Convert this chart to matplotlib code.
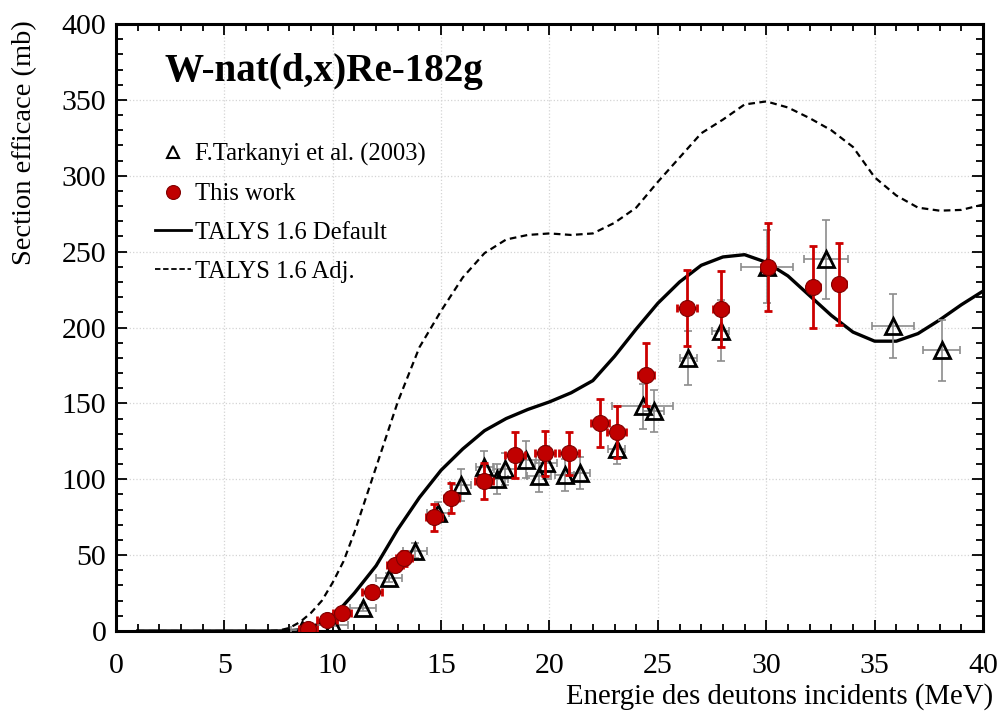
import matplotlib
matplotlib.use("Agg")
import matplotlib.pyplot as plt
from matplotlib.lines import Line2D
from matplotlib.ticker import MultipleLocator

plt.rcParams['font.family'] = ['Liberation Serif', 'DejaVu Serif']

# TALYS curves
talys_x = [1, 2, 3, 4, 5, 6, 7, 7.5, 8, 8.5, 9, 9.5, 10, 10.5, 11, 12, 13, 14, 15, 16, 17, 18, 19, 20,
           21, 22, 23, 24, 25, 26, 27, 28, 29, 30, 31, 32, 33, 34, 35, 36, 37, 38, 39, 40]
talys_default = [0, 0, 0, 0, 0, 0, 0, 0, 0.2, 0.8, 2.5, 5.5, 11, 17, 25, 43, 67, 88, 106, 120, 132, 140, 146, 151,
                 157, 165, 181, 199, 216, 230, 241, 246.5, 248, 243, 234, 221, 208, 197, 191, 191, 196, 205, 215, 224]
talys_adj = [0, 0, 0, 0, 0, 0, 0, 0.3, 2, 6, 12, 20, 32, 46, 65, 108, 151, 187, 211, 233, 249, 258, 261, 262,
             261, 262, 269, 279, 296, 312, 328, 337, 347, 349, 345, 338, 330, 319, 299, 287, 279, 277, 277.5, 281]

# F.Tarkanyi et al. (2003)
tark_x = [8.58, 10.0, 11.4, 12.6, 13.8, 14.86, 15.9, 17.0, 17.6, 17.95, 18.9, 19.5, 19.85, 20.7, 21.4,
          23.1, 24.3, 24.8, 26.4, 27.9, 30.05, 32.75, 35.85, 38.1]
tark_y = [0.7, 4, 15, 35, 53, 78, 96, 108, 100, 107, 113, 102, 111, 103, 104,
          120, 148, 145, 180, 198, 240, 245, 201, 185]
tark_yerr = [0.5, 1, 2, 3, 5, 7, 10.5, 10.5, 10, 10.5, 12, 10.5, 11, 10.5, 10.5,
             10, 15, 14, 18, 20, 24, 26, 21, 20]
tark_xerr = [0.5, 0.7, 0.6, 0.6, 0.55, 0.5, 0.5, 0.4, 0.5, 0.5, 0.5, 0.55, 0.5, 0.45, 0.45,
             0.4, 1.4, 0.5, 0.4, 0.4, 1.2, 1.0, 0.95, 0.85]

# This work
work_x = [8.86, 9.73, 10.43, 11.8, 12.87, 13.29, 14.67, 15.46, 16.98, 18.41, 19.79, 20.9, 22.33, 23.1,
          24.45, 26.34, 27.9, 30.08, 32.16, 33.36]
work_y = [1.3, 7.2, 11.9, 25.7, 43.5, 48, 75, 87.6, 98.8, 116, 117, 117, 137, 131,
          169, 213, 212, 240, 227, 228.7]
work_yerr = [0.5, 1, 1.5, 2.5, 4, 5, 9, 10, 12, 15, 15, 14, 16, 17, 21, 25, 25, 29, 27, 27]
work_xerr = [0.4, 0.45, 0.4, 0.45, 0.35, 0.35, 0.35, 0.35, 0.4, 0.45, 0.45, 0.45, 0.4, 0.45,
             0.35, 0.45, 0.35, 0.3, 0.3, 0.3]

fig = plt.figure(figsize=(9.99, 7.13), dpi=100)
ax = fig.add_axes([0.1161, 0.115, 0.8679, 0.8513])

ax.plot(talys_x, talys_default, color='black', lw=2.4, zorder=3)
ax.plot(talys_x, talys_adj, color='black', lw=1.6, ls=(0, (3, 2)), zorder=3)

ax.errorbar(tark_x, tark_y, yerr=tark_yerr, xerr=tark_xerr, fmt='none', ecolor='#8c8c8c',
            elinewidth=1.2, capsize=3, capthick=1.2, zorder=4)
ax.plot(tark_x, tark_y, ls='none', marker='^', ms=12, mfc='none', mec='black', mew=2, zorder=5)

ax.errorbar(work_x, work_y, yerr=work_yerr, xerr=work_xerr, fmt='none', ecolor='#cc0000',
            elinewidth=2, capsize=3, capthick=2, zorder=6)
ax.plot(work_x, work_y, ls='none', marker='o', ms=11.5, mfc='#c00000', mec='#800000', mew=0.8, zorder=7)

ax.set_xlim(0, 40)
ax.set_ylim(0, 400)
ax.xaxis.set_major_locator(MultipleLocator(5))
ax.xaxis.set_minor_locator(MultipleLocator(1))
ax.yaxis.set_major_locator(MultipleLocator(50))
ax.yaxis.set_minor_locator(MultipleLocator(10))
ax.tick_params(which='both', direction='in', top=True, right=True, width=1.3, labelsize=21.5)
ax.tick_params(which='major', length=8)
ax.tick_params(which='minor', length=5)
ax.tick_params(axis='x', which='major', pad=16)
ax.tick_params(axis='y', which='major', pad=7)
ax.grid(True, which='major', color='#d4d4d4', ls=':', lw=0.9)
for s in ax.spines.values():
    s.set_linewidth(2.2)
ax.set_axisbelow(True)

ax.set_xlabel('Energie des deutons incidents (MeV)', fontsize=20.7, ha='right')
ax.xaxis.set_label_coords(1.0115, -0.085)
ax.set_ylabel('Section efficace (mb)', fontsize=20.5, ha='right')
ax.yaxis.set_label_coords(-0.091, 1.007)

ax.text(0.0565, 0.922, 'W-nat(d,x)Re-182g', transform=ax.transAxes, fontsize=28.2,
        fontweight='bold', va='center', ha='left')

handles = [
    Line2D([], [], ls='none', marker='^', ms=8, mfc='none', mec='black', mew=1.5),
    Line2D([], [], ls='none', marker='o', ms=10, mfc='#c00000', mec='#800000', mew=0.8),
    Line2D([], [], color='black', lw=2),
    Line2D([], [], color='black', lw=1.3, ls=(0, (3, 1.5))),
]
labels = ['F.Tarkanyi et al. (2003)', 'This work', 'TALYS 1.6 Default', 'TALYS 1.6 Adj.']
leg = ax.legend(handles, labels, loc='upper left', bbox_to_anchor=(0.0335, 0.82), frameon=False,
                fontsize=17.7, handlelength=1.45, handletextpad=0.2, labelspacing=0.68, borderaxespad=0)

fig.savefig('out.png', dpi=100)
